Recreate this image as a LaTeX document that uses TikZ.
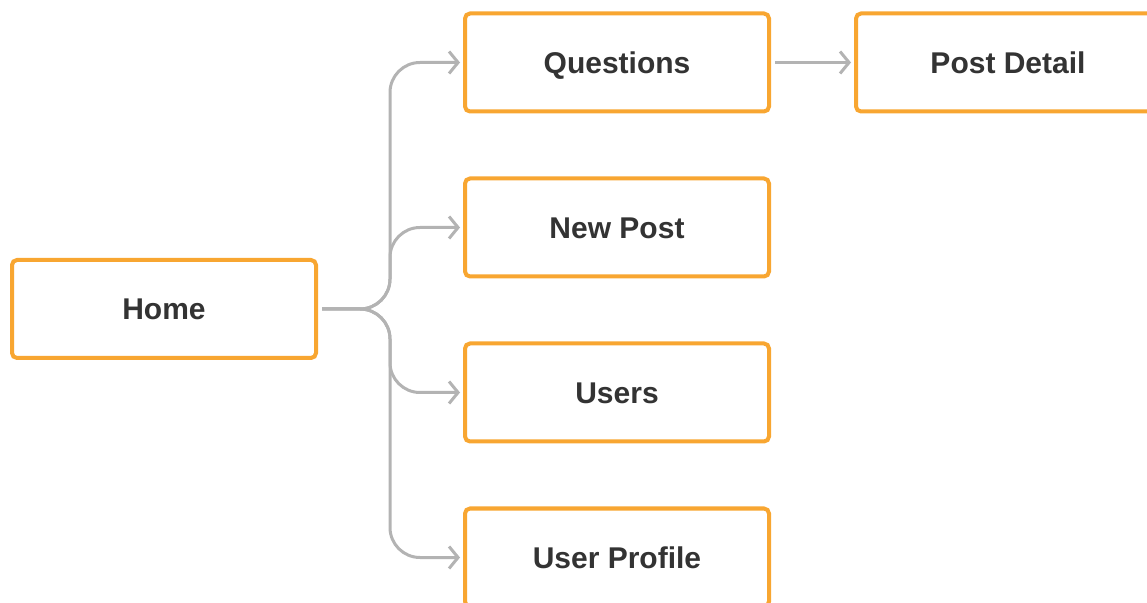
\documentclass[tikz,border=0pt]{standalone}
\usepackage{fontspec}
\setmainfont{Liberation Sans}
\usetikzlibrary{arrows.meta,positioning}
\definecolor{frame}{HTML}{F8A631}
\definecolor{wire}{HTML}{B3B3B3}
\definecolor{ink}{HTML}{333333}

\begin{document}
\begin{tikzpicture}[x=1pt,y=1pt,>={Straight Barb[length=9pt,width=22pt]},
    node distance=63pt and 83pt,
    page/.style={draw=frame,line width=4pt,rounded corners=5pt,fill=white,
                 minimum width=304pt,minimum height=98pt,inner sep=0pt,
                 text height=21.5pt,text depth=0pt,
                 text=ink,font=\fontsize{30}{36}\selectfont\bfseries},
    link/.style={->,draw=wire,line width=3pt,rounded corners=30pt,
                 shorten <=4pt,shorten >=3pt}]
    \useasboundingbox (0,0) rectangle (1147,602);
    \node[page] (home) at (164,293) {Home};
    \node[page] (questions) at (617,539.5) {Questions};
    \node[page,right=of questions] (detail) {Post Detail};
    \node[page,below=of questions] (newpost) {New Post};
    \node[page,below=of newpost] (users) {Users};
    \node[page,below=of users] (profile) {User Profile};
    \coordinate (fork) at (390,293);
    \draw[link] (home) -- (fork) |- (questions);
    \draw[link] (home) -- (fork) |- (newpost);
    \draw[link] (home) -- (fork) |- (users);
    \draw[link] (home) -- (fork) |- (profile);
    \draw[link] (questions) -- (detail);
\end{tikzpicture}
\end{document}
